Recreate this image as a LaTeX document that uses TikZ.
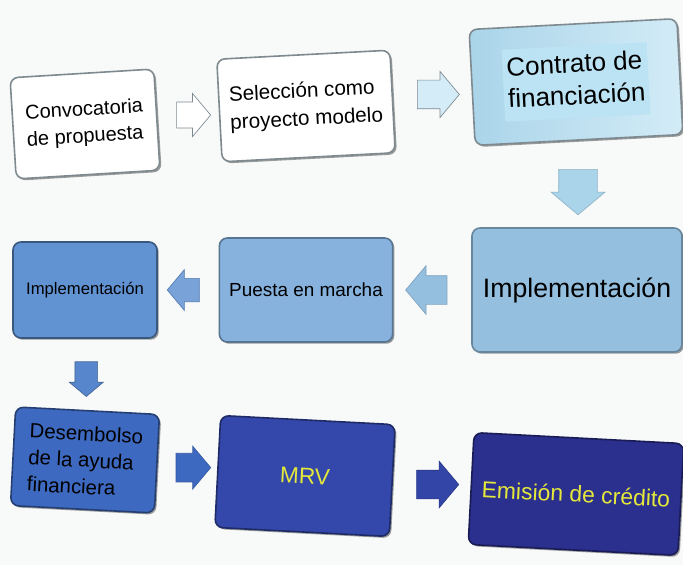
\documentclass[tikz,border=0pt]{standalone}
\usepackage{fontspec}
\setmainfont{Liberation Sans}
\usetikzlibrary{calc,shapes.arrows,shadows}

\definecolor{fondo}{HTML}{F8F9F9}
\definecolor{bordegris}{HTML}{7E8A90}
\definecolor{celeste}{HTML}{D3ECF7}
\definecolor{celesteoscuro}{HTML}{AAD4E9}
\definecolor{resalte}{HTML}{BCE3F4}
\definecolor{azulclaro}{HTML}{94BFDF}
\definecolor{azulmedio}{HTML}{86B2DD}
\definecolor{azul}{HTML}{6192D2}
\definecolor{azulfuerte}{HTML}{3E69C0}
\definecolor{azulreal}{HTML}{3447AA}
\definecolor{marino}{HTML}{2B2F8E}
\definecolor{amarillo}{HTML}{E4E83A}

\tikzset{
  caja/.style={rectangle, rounded corners=6pt, line width=1.2pt, inner sep=2pt,
    drop shadow={shadow xshift=1.3pt, shadow yshift=-1.3pt, fill=black!70, opacity=.55}},
  flecha/.style={single arrow, single arrow tip angle=100, inner xsep=0pt, minimum width=0pt,
    line width=.5pt}
}

\begin{document}
\begin{tikzpicture}[x=0.75pt,y=-0.75pt]

\useasboundingbox[fill=fondo] (0,0) rectangle (683,565);

\coordinate (c1) at (85,124);
\coordinate (c2) at (306,106);
\coordinate (c3) at (576,82);
\coordinate (c4) at (85,290);
\coordinate (c5) at (306,290);
\coordinate (c6) at (577,290);
\coordinate (c7) at (85,460);
\coordinate (c8) at (305,476);
\coordinate (c9) at (576,494);

\node[caja, fill=white, draw=bordegris, rotate=3.5, minimum width=108pt, minimum height=76pt,
  align=left, font=\fontsize{15}{20}\selectfont] (convocatoria) at (c1) {Convocatoria\\de propuesta};
\node[caja, fill=white, draw=bordegris, rotate=3, minimum width=130pt, minimum height=77pt,
  align=left, font=\fontsize{15.5}{21}\selectfont] (seleccion) at (c2) {Selección como\\proyecto modelo};
\node[caja, left color=celesteoscuro, right color=celeste, draw=bordegris, rotate=3,
  minimum width=156pt, minimum height=87pt, font=\fontsize{19.5}{24}\selectfont] (contrato) at (c3)
  {\setlength\fboxsep{3pt}\colorbox{resalte}{\begin{tabular}{@{}l@{}}Contrato de\\financiación\end{tabular}}};

\node[caja, fill=azulclaro, draw=azulclaro!70!black, minimum width=157.5pt, minimum height=93pt,
  font=\fontsize{20}{24}\selectfont] (impl) at (c6) {Implementación};
\node[caja, fill=azulmedio, draw=azulmedio!65!black, minimum width=130pt, minimum height=78pt,
  font=\fontsize{14.2}{17}\selectfont] (puesta) at (c5) {Puesta en marcha};
\node[caja, fill=azul, draw=azul!60!black, minimum width=108pt, minimum height=72pt,
  font=\fontsize{12.5}{15}\selectfont] (implb) at (c4) {Implementación};

\node[caja, fill=azulfuerte, draw=azulfuerte!60!black, rotate=-3, minimum width=108pt, minimum height=74pt,
  align=left, font=\fontsize{15.3}{20}\selectfont] (desembolso) at (c7) {Desembolso\\de la ayuda\\financiera};
\node[caja, fill=azulreal, draw=azulreal!60!black, rotate=-3, minimum width=131pt, minimum height=84pt,
  text=amarillo, font=\fontsize{17}{20}\selectfont] (mrv) at (c8) {MRV};
\node[caja, fill=marino, draw=marino!60!black, rotate=-3, minimum width=157.5pt, minimum height=84pt,
  text=amarillo, font=\fontsize{17.2}{20}\selectfont] (emision) at (c9) {Emisión de crédito};

\node[flecha, fill=white, draw=bordegris, minimum height=25.5pt, inner ysep=9.5pt,
  single arrow head extend=6.5pt] (f1) at ($(convocatoria.east)!.5!(seleccion.west)$) {};
\node[flecha, fill=celeste, draw=bordegris, minimum height=31.5pt, inner ysep=10.5pt,
  single arrow head extend=6.5pt] (f2) at ($(seleccion.east)!.5!(contrato.west)$) {};
\node[flecha, fill=celesteoscuro, draw=celesteoscuro!85!black, rotate=-90, minimum height=34pt,
  inner ysep=14.25pt, single arrow head extend=5.75pt] (f3) at ($(contrato.south)!.5!(impl.north)$) {};
\node[flecha, fill=azulclaro, draw=azulclaro!85!black, rotate=180, minimum height=31pt,
  inner ysep=10.5pt, single arrow head extend=7.5pt] (f4) at ($(impl.west)!.5!(puesta.east)$) {};
\node[flecha, fill=azul!85!white, draw=azul!85!black, rotate=180, minimum height=24pt,
  inner ysep=8.5pt, single arrow head extend=6.5pt] (f5) at ($(puesta.west)!.5!(implb.east)$) {};
\node[flecha, fill=azul!70!azulfuerte, draw=azul!70!black, rotate=-90, minimum height=26pt,
  inner ysep=8.25pt, single arrow head extend=4.25pt] (f6) at ($(implb.south)!.5!(desembolso.north)$) {};
\node[flecha, fill=azulfuerte, draw=azulfuerte!85!black, minimum height=26pt,
  inner ysep=10.5pt, single arrow head extend=5.25pt] (f7) at ($(desembolso.east)!.5!(mrv.west)$) {};
\node[flecha, fill=azulreal!90!marino, draw=azulreal!80!black, minimum height=31.5pt,
  inner ysep=10.5pt, single arrow head extend=6.75pt] (f8) at ($(mrv.east)!.5!(emision.west)$) {};

\end{tikzpicture}
\end{document}
